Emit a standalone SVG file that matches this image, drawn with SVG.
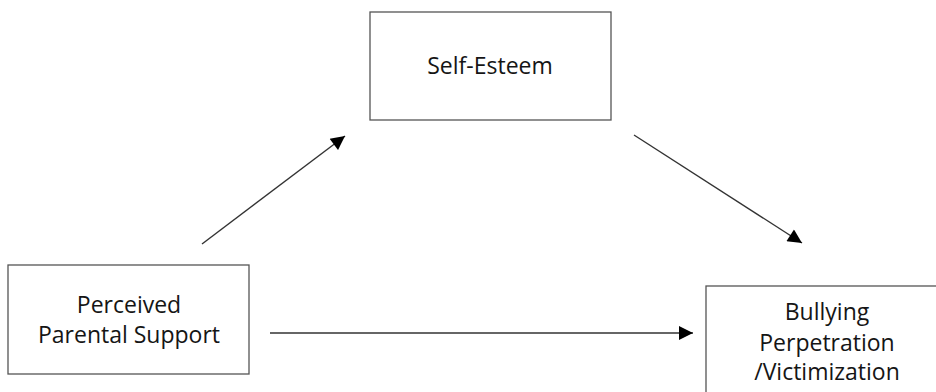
<svg xmlns="http://www.w3.org/2000/svg" width="936" height="392" viewBox="0 0 936 392">
<style>
.box{fill:#fff;stroke:#555;stroke-width:1.3}
.lbl{font-family:"Open Sans","Noto Sans",sans-serif;font-size:23px;fill:#151515;text-anchor:middle}
.conn{stroke:#333;stroke-width:1.4;fill:none;marker-end:url(#ah)}
</style>
<defs>
<marker id="ah" viewBox="0 0 10 10" refX="10" refY="5" markerWidth="16" markerHeight="14" markerUnits="userSpaceOnUse" orient="auto">
<path d="M0,0 L10,5 L0,10 z" fill="#000"/>
</marker>
</defs>
<rect width="936" height="392" fill="#fff"/>
<g id="self-esteem">
<rect class="box" x="370" y="12" width="241" height="108"/>
<text class="lbl" x="490" y="74">Self-Esteem</text>
</g>
<g id="parental-support">
<rect class="box" x="8" y="265" width="241" height="109"/>
<text class="lbl" x="129" y="313">Perceived</text>
<text class="lbl" x="129" y="343">Parental Support</text>
</g>
<g id="bullying">
<rect class="box" x="706" y="286" width="240" height="120"/>
<text class="lbl" x="827" y="320">Bullying</text>
<text class="lbl" x="827" y="351">Perpetration</text>
<text class="lbl" x="827" y="380">/Victimization</text>
</g>
<g id="connectors">
<line class="conn" x1="202" y1="244" x2="345" y2="136"/>
<line class="conn" x1="634" y1="135" x2="802" y2="243"/>
<line class="conn" x1="270" y1="333" x2="693" y2="333"/>
</g>
</svg>
